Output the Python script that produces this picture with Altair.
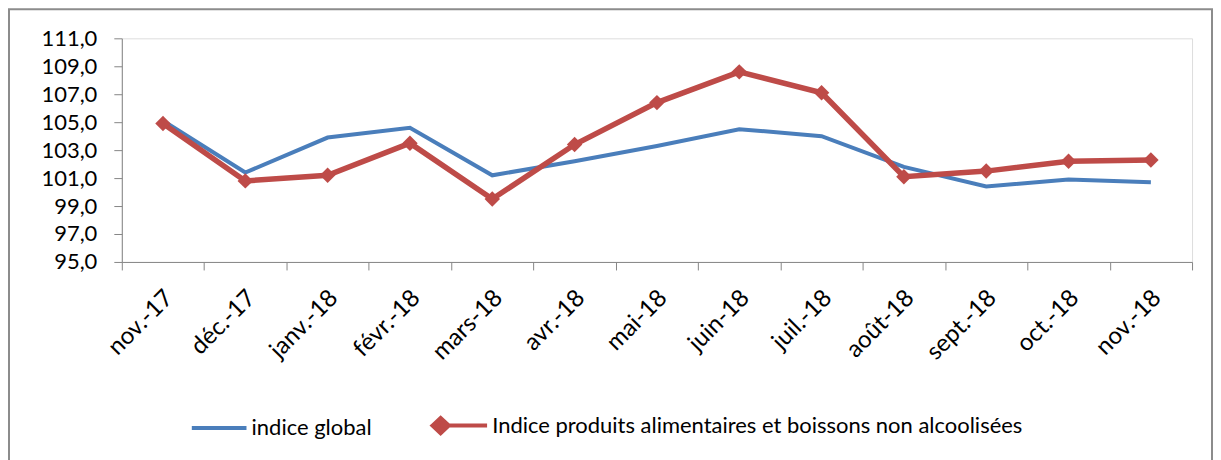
import altair as alt
import pandas as pd

months = ["nov.-17", "déc.-17", "janv.-18", "févr.-18", "mars-18", "avr.-18", "mai-18",
          "juin-18", "juil.-18", "août-18", "sept.-18", "oct.-18", "nov.-18"]
indice_global = [105.1, 101.4, 103.9, 104.6, 101.2, 102.2, 103.3, 104.5, 104.0, 101.8, 100.4, 100.9, 100.7]
indice_alim = [104.9, 100.8, 101.2, 103.5, 99.5, 103.4, 106.4, 108.6, 107.1, 101.1, 101.5, 102.2, 102.3]

S_GLOBAL = "indice global"
S_ALIM = "Indice produits alimentaires et boissons non alcoolisées"
series = [S_GLOBAL, S_ALIM]
colors = ["#4A7EBB", "#BE4B48"]
legend_shapes = ["M-1,0H1", "M-0.7,0H1M-1,0L-0.7,-0.28L-0.4,0L-0.7,0.28Z"]

rows = []
for i, m in enumerate(months):
    rows.append({"month": m, "pos": i + 0.5, "series": S_GLOBAL, "value": indice_global[i]})
for i, m in enumerate(months):
    rows.append({"month": m, "pos": i + 0.5, "series": S_ALIM, "value": indice_alim[i]})
df = pd.DataFrame(rows)

W, H = 1072, 224
band = W / len(months)
FONT = "Lato"

label_arr = "[" + ",".join("'" + m + "'" for m in months) + ",'']"

x_enc = alt.X(
    "pos:Q",
    scale=alt.Scale(domain=[0, len(months)], nice=False, zero=False),
    axis=alt.Axis(
        values=list(range(len(months) + 1)),
        labelExpr=label_arr + "[datum.value]",
        title=None, grid=False, tickSize=8, tickColor="#868686",
        domainColor="#868686", labelAngle=-45, labelAlign="right",
        labelBaseline="middle", labelOffset=band / 2 + 6, labelPadding=24,
        labelFont=FONT, labelFontSize=24, labelColor="#000", labelOverlap=False,
        labelBound=False, labelFlush=False,
    ),
)
y_enc = alt.Y(
    "value:Q",
    scale=alt.Scale(domain=[95, 111], nice=False, zero=False),
    axis=alt.Axis(
        values=list(range(95, 112, 2)),
        labelExpr="replace(format(datum.value, '.1f'), '.', ',')",
        title=None, grid=False, tickSize=8, tickColor="#868686",
        domainColor="#868686", labelPadding=17, labelFont=FONT,
        labelFontSize=22, labelColor="#000",
    ),
)

legend = alt.Legend(
    orient="none", legendX=68, legendY=358, direction="horizontal", title=None,
    symbolSize=3000, labelFont=FONT, labelFontSize=22, labelColor="#000",
    columnPadding=52, labelOffset=3, symbolStrokeWidth=4, labelLimit=0,
)

base = alt.Chart(df)

line_global = base.transform_filter(alt.datum.series == S_GLOBAL).mark_line(
    strokeWidth=4, color=colors[0]
).encode(x=x_enc, y=y_enc)
line_alim = base.transform_filter(alt.datum.series == S_ALIM).mark_line(
    strokeWidth=5.5, color=colors[1]
).encode(x=x_enc, y=y_enc)
points_alim = base.transform_filter(alt.datum.series == S_ALIM).mark_point(
    shape="diamond", filled=True, size=240, opacity=1, color=colors[1]
).encode(x=x_enc, y=y_enc)

# legend carrier: no rows drawn, entries come from the explicit domain
legend_layer = base.transform_filter(alt.datum.value < 0).mark_point(
    filled=True, opacity=1
).encode(
    x=x_enc, y=y_enc,
    fill=alt.Fill("series:N", scale=alt.Scale(domain=series, range=colors), legend=legend),
    stroke=alt.Stroke("series:N", scale=alt.Scale(domain=series, range=colors), legend=legend),
    shape=alt.Shape("series:N", scale=alt.Scale(domain=series, range=legend_shapes), legend=legend),
)

border = alt.Chart(pd.DataFrame({"a": [0]})).mark_rect(
    fill=None, stroke="#8C8C8C", strokeWidth=2, clip=False
).encode(
    x=alt.value(-113), x2=alt.value(W + 20), y=alt.value(-29), y2=alt.value(H + 220)
)

chart = alt.layer(border, line_global, line_alim, points_alim, legend_layer).properties(
    width=W, height=H,
    padding={"left": 114, "top": 30, "right": 21, "bottom": 198},
    autosize=alt.AutoSizeParams(type="none"),
).configure_view(stroke=None).configure(background="white")

chart.save("out.html", embed_options={"renderer": "svg", "actions": False})
